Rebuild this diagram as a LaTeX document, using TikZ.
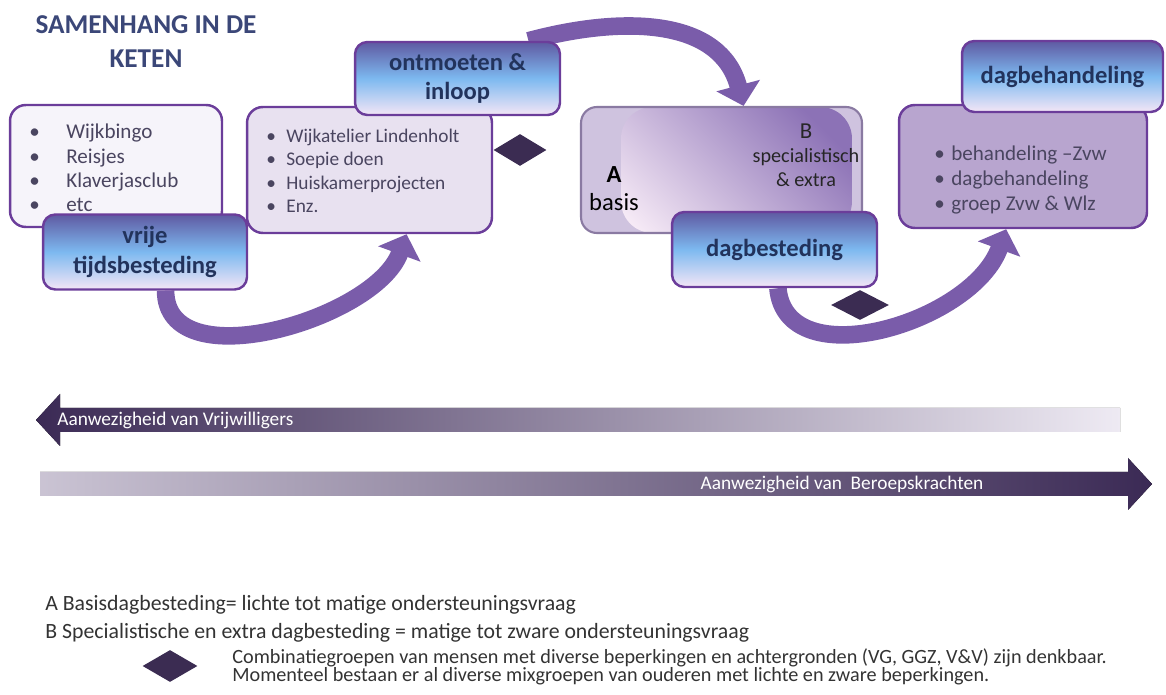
\documentclass[tikz,border=0pt]{standalone}
\usepackage{fontspec}
\setmainfont{Carlito}
\usepackage{tikz}
\usetikzlibrary{shapes.geometric,arrows.meta,positioning}
\pgfdeclarelayer{achter}
\pgfsetlayers{achter,main}

\definecolor{paars}{HTML}{6B3D9A}
\definecolor{titelblauw}{HTML}{3B4778}
\definecolor{kopboven}{HTML}{5F5AA2}
\definecolor{kopmidden}{HTML}{7DB9F0}
\definecolor{koponder}{HTML}{F4E6F6}
\definecolor{koptekst}{HTML}{22335C}
\definecolor{vul1}{HTML}{F6F4FA}
\definecolor{vul2}{HTML}{E8E1F0}
\definecolor{vul3}{HTML}{B8A5CF}
\definecolor{lijsttekst}{HTML}{4A4560}
\definecolor{boogkleur}{HTML}{7A5CAA}
\definecolor{ruitkleur}{HTML}{3B2C52}
\definecolor{ablicht}{HTML}{CFC3DF}
\definecolor{abdonker}{HTML}{8C72B6}
\definecolor{abroze}{HTML}{F6EAF6}
\definecolor{abrand}{HTML}{8A7AA2}
\definecolor{balkdonker}{HTML}{3B2A55}
\definecolor{balklicht}{HTML}{EEEAF3}
\definecolor{onderschrift}{HTML}{333333}

\tikzset{
  lijst/.style={draw=paars,line width=1.4pt,rounded corners=9pt,inner sep=0pt},
  kop/.style={draw=paars,line width=1.4pt,rounded corners=7pt,inner sep=0pt,
    top color=kopboven,bottom color=koponder,middle color=kopmidden,
    text=koptekst,align=center,font=\bfseries\fontsize{14}{17}\selectfont},
  punten/.style={anchor=west,align=left,inner sep=0pt,text=lijsttekst},
  boog/.style={draw=boogkleur,line width=10pt,-{Triangle[width=25pt,length=12pt]}},
  ruit/.style={diamond,fill=ruitkleur,inner sep=0pt},
  balktekst/.style={text=white,inner sep=0pt,font=\fontsize{11}{13}\selectfont},
}

\begin{document}
\begin{tikzpicture}[x=0.02cm,y=-0.02cm]
\useasboundingbox (0,0) rectangle (1166,695);

\node (titel) [text=titelblauw,align=center,font=\bfseries\fontsize{15.5}{19.3}\selectfont] at (146,42) {SAMENHANG IN DE\\KETEN};

% vrije tijd
\node (lijst1) [lijst,fill=vul1,minimum width=4.24cm,minimum height=2.44cm] at (116,166) {};
\node (tekst1) [punten,font=\fontsize{12}{13.8}\selectfont] at (29,168) {\makebox[0.74cm][l]{\textbullet}Wijkbingo\\\makebox[0.74cm][l]{\textbullet}Reisjes\\\makebox[0.74cm][l]{\textbullet}Klaverjasclub\\\makebox[0.74cm][l]{\textbullet}etc};
\node (vrije) [kop,minimum width=4.08cm,minimum height=1.5cm] at (145,252) {vrije\\tijdsbesteding};

% ontmoeten
\node (lijst2) [lijst,fill=vul2,minimum width=4.9cm,minimum height=2.52cm] at (369.5,170) {};
\node (tekst2) [punten,font=\fontsize{11}{13.4}\selectfont] at (266,171) {\makebox[0.4cm][l]{\textbullet}Wijkatelier Lindenholt\\\makebox[0.4cm][l]{\textbullet}Soepie doen\\\makebox[0.4cm][l]{\textbullet}Huiskamerprojecten\\\makebox[0.4cm][l]{\textbullet}Enz.};
\node (ontmoet) [kop,minimum width=4.1cm,minimum height=1.46cm] at (457.5,78.5) {ontmoeten \&\\inloop};
\node (ruit1) [ruit,minimum width=1.06cm,minimum height=0.64cm] at (520,150) {};

% dagbesteding
\node (ab) [draw=abrand,line width=1.2pt,rounded corners=9pt,fill=ablicht,minimum width=5.62cm,minimum height=2.52cm,
  path picture={\shade[top color=abdonker,bottom color=abroze,shading angle=-45,rounded corners=18pt]
    ([xshift=0.8cm]path picture bounding box.north west) rectangle ([xshift=-0.2cm]path picture bounding box.south east);}] at (721.5,170) {};
\node (atekst) [align=center,inner sep=0pt,text=black,font=\fontsize{14}{16}\selectfont] at (614,189) {\textbf{A}\\basis};
\node (btekst) [align=center,inner sep=0pt,text=black!85,font=\fontsize{11.5}{13.8}\selectfont] at (806,155) {{\fontsize{13}{14}\selectfont B}\\specialistisch\\\& extra};
\node (dagbest) [kop,minimum width=4.1cm,minimum height=1.5cm] at (774.5,249.5) {dagbesteding};
\node (ruit2) [ruit,minimum width=1.16cm,minimum height=0.6cm] at (860,305) {};

% dagbehandeling
\node (lijst3) [lijst,fill=vul3,minimum width=4.96cm,minimum height=2.46cm] at (1023,166.5) {};
\node (tekst3) [punten,font=\fontsize{12}{14.5}\selectfont] at (934,180) {\makebox[0.34cm][l]{\textbullet}behandeling –Zvw\\\makebox[0.34cm][l]{\textbullet}dagbehandeling\\\makebox[0.34cm][l]{\textbullet}groep Zvw \& Wlz};
\node (dagbeh) [kop,minimum width=4.02cm,minimum height=1.42cm] at (1062.5,76.5) {dagbehandeling};

\begin{pgfonlayer}{achter}
\draw[boog] (vrije.-62) .. controls +(0,90) and +(-31,85) .. (lijst2.-60);
\draw[boog] (ontmoet.28) .. controls +(97,-26) and +(-23,-87) .. (ab.71);
\draw[boog] (dagbest.-85) .. controls +(8,90) and +(-34,94) .. (lijst3.-105);
\end{pgfonlayer}

% balken
\fill[left color=balkdonker,middle color=balkdonker!85!white,right color=balklicht] (36,420) -- (60,394) -- (60,408) -- (1120,408) -- (1120,432) -- (60,432) -- (60,446) -- cycle;
\node (vrijwillig) [balktekst,anchor=west] at (57,420) {Aanwezigheid van Vrijwilligers};
\fill[left color=balklicht!80!balkdonker,middle color=balkdonker,right color=balkdonker] (40,472) -- (1128,472) -- (1128,458) -- (1152,484) -- (1128,510) -- (1128,496) -- (40,496) -- cycle;
\node (beroeps) [balktekst] at (842,484) {Aanwezigheid van\ \ Beroepskrachten};

% uitleg
\node (uitlegA) [anchor=west,inner sep=0pt,text=onderschrift,font=\fontsize{12.4}{14}\selectfont] at (45,605) {A Basisdagbesteding= lichte tot matige ondersteuningsvraag};
\node (uitlegB) [anchor=west,inner sep=0pt,text=onderschrift,font=\fontsize{12.4}{14}\selectfont] at (45,633) {B Specialistische en extra dagbesteding = matige tot zware ondersteuningsvraag};
\node (ruit3) [ruit,minimum width=1.1cm,minimum height=0.64cm] at (170,666) {};
\node (legenda) [anchor=west,inner sep=0pt,align=left,text=onderschrift,font=\fontsize{11.5}{10.4}\selectfont] at (232,667) {Combinatiegroepen van mensen met diverse beperkingen en achtergronden (VG, GGZ, V\&V) zijn denkbaar.\\Momenteel bestaan er al diverse mixgroepen van ouderen met lichte en zware beperkingen.};
\end{tikzpicture}
\end{document}
